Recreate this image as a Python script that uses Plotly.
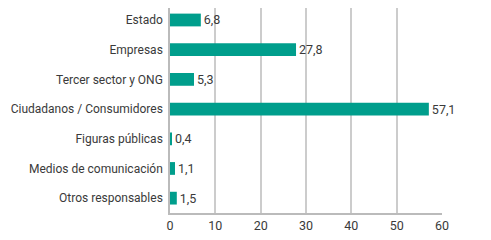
import plotly.graph_objects as go

categories = ["Estado", "Empresas", "Tercer sector y ONG", "Ciudadanos / Consumidores",
              "Figuras públicas", "Medios de comunicación", "Otros responsables"]
values = [6.8, 27.8, 5.3, 57.1, 0.4, 1.1, 1.5]
labels = [f"{v:.1f}".replace(".", ",") for v in values]
x_ticks = [0, 10, 20, 30, 40, 50, 60]

FONT = "Roboto"

fig = go.Figure(go.Bar(
    x=values, y=categories, orientation="h",
    marker=dict(color="#009e8c", line=dict(width=0)),
    text=labels, textposition="outside", constraintext="none",
    textfont=dict(color="#3a3a3a", size=12.5, family=FONT),
    cliponaxis=False, width=0.43,
))

# the page body has an 8px margin, so the figure is sized/offset to compensate
fig.update_layout(
    width=483, height=232,
    margin=dict(l=162, r=49, t=0, b=27, pad=0, autoexpand=False),
    paper_bgcolor="white", plot_bgcolor="white",
    font=dict(family=FONT, size=12, color="#3a3a3a"),
    showlegend=False,
    xaxis=dict(range=[0, 60], tickvals=x_ticks, showgrid=True, gridcolor="#cccccc", gridwidth=1.5,
               zeroline=False, showline=True, linecolor="#bbbbbb", linewidth=1.5,
               ticks="", ticklabelstandoff=0, automargin=False, tickfont=dict(size=12.5)),
    yaxis=dict(type="category", categoryorder="array", categoryarray=categories,
               range=[6.5, -0.404], showgrid=False, zeroline=False,
               showline=True, linecolor="#bbbbbb", linewidth=1.5, ticks="",
               ticklabelstandoff=3, automargin=False, tickfont=dict(size=12)),
)

fig.write_html("out.html")
